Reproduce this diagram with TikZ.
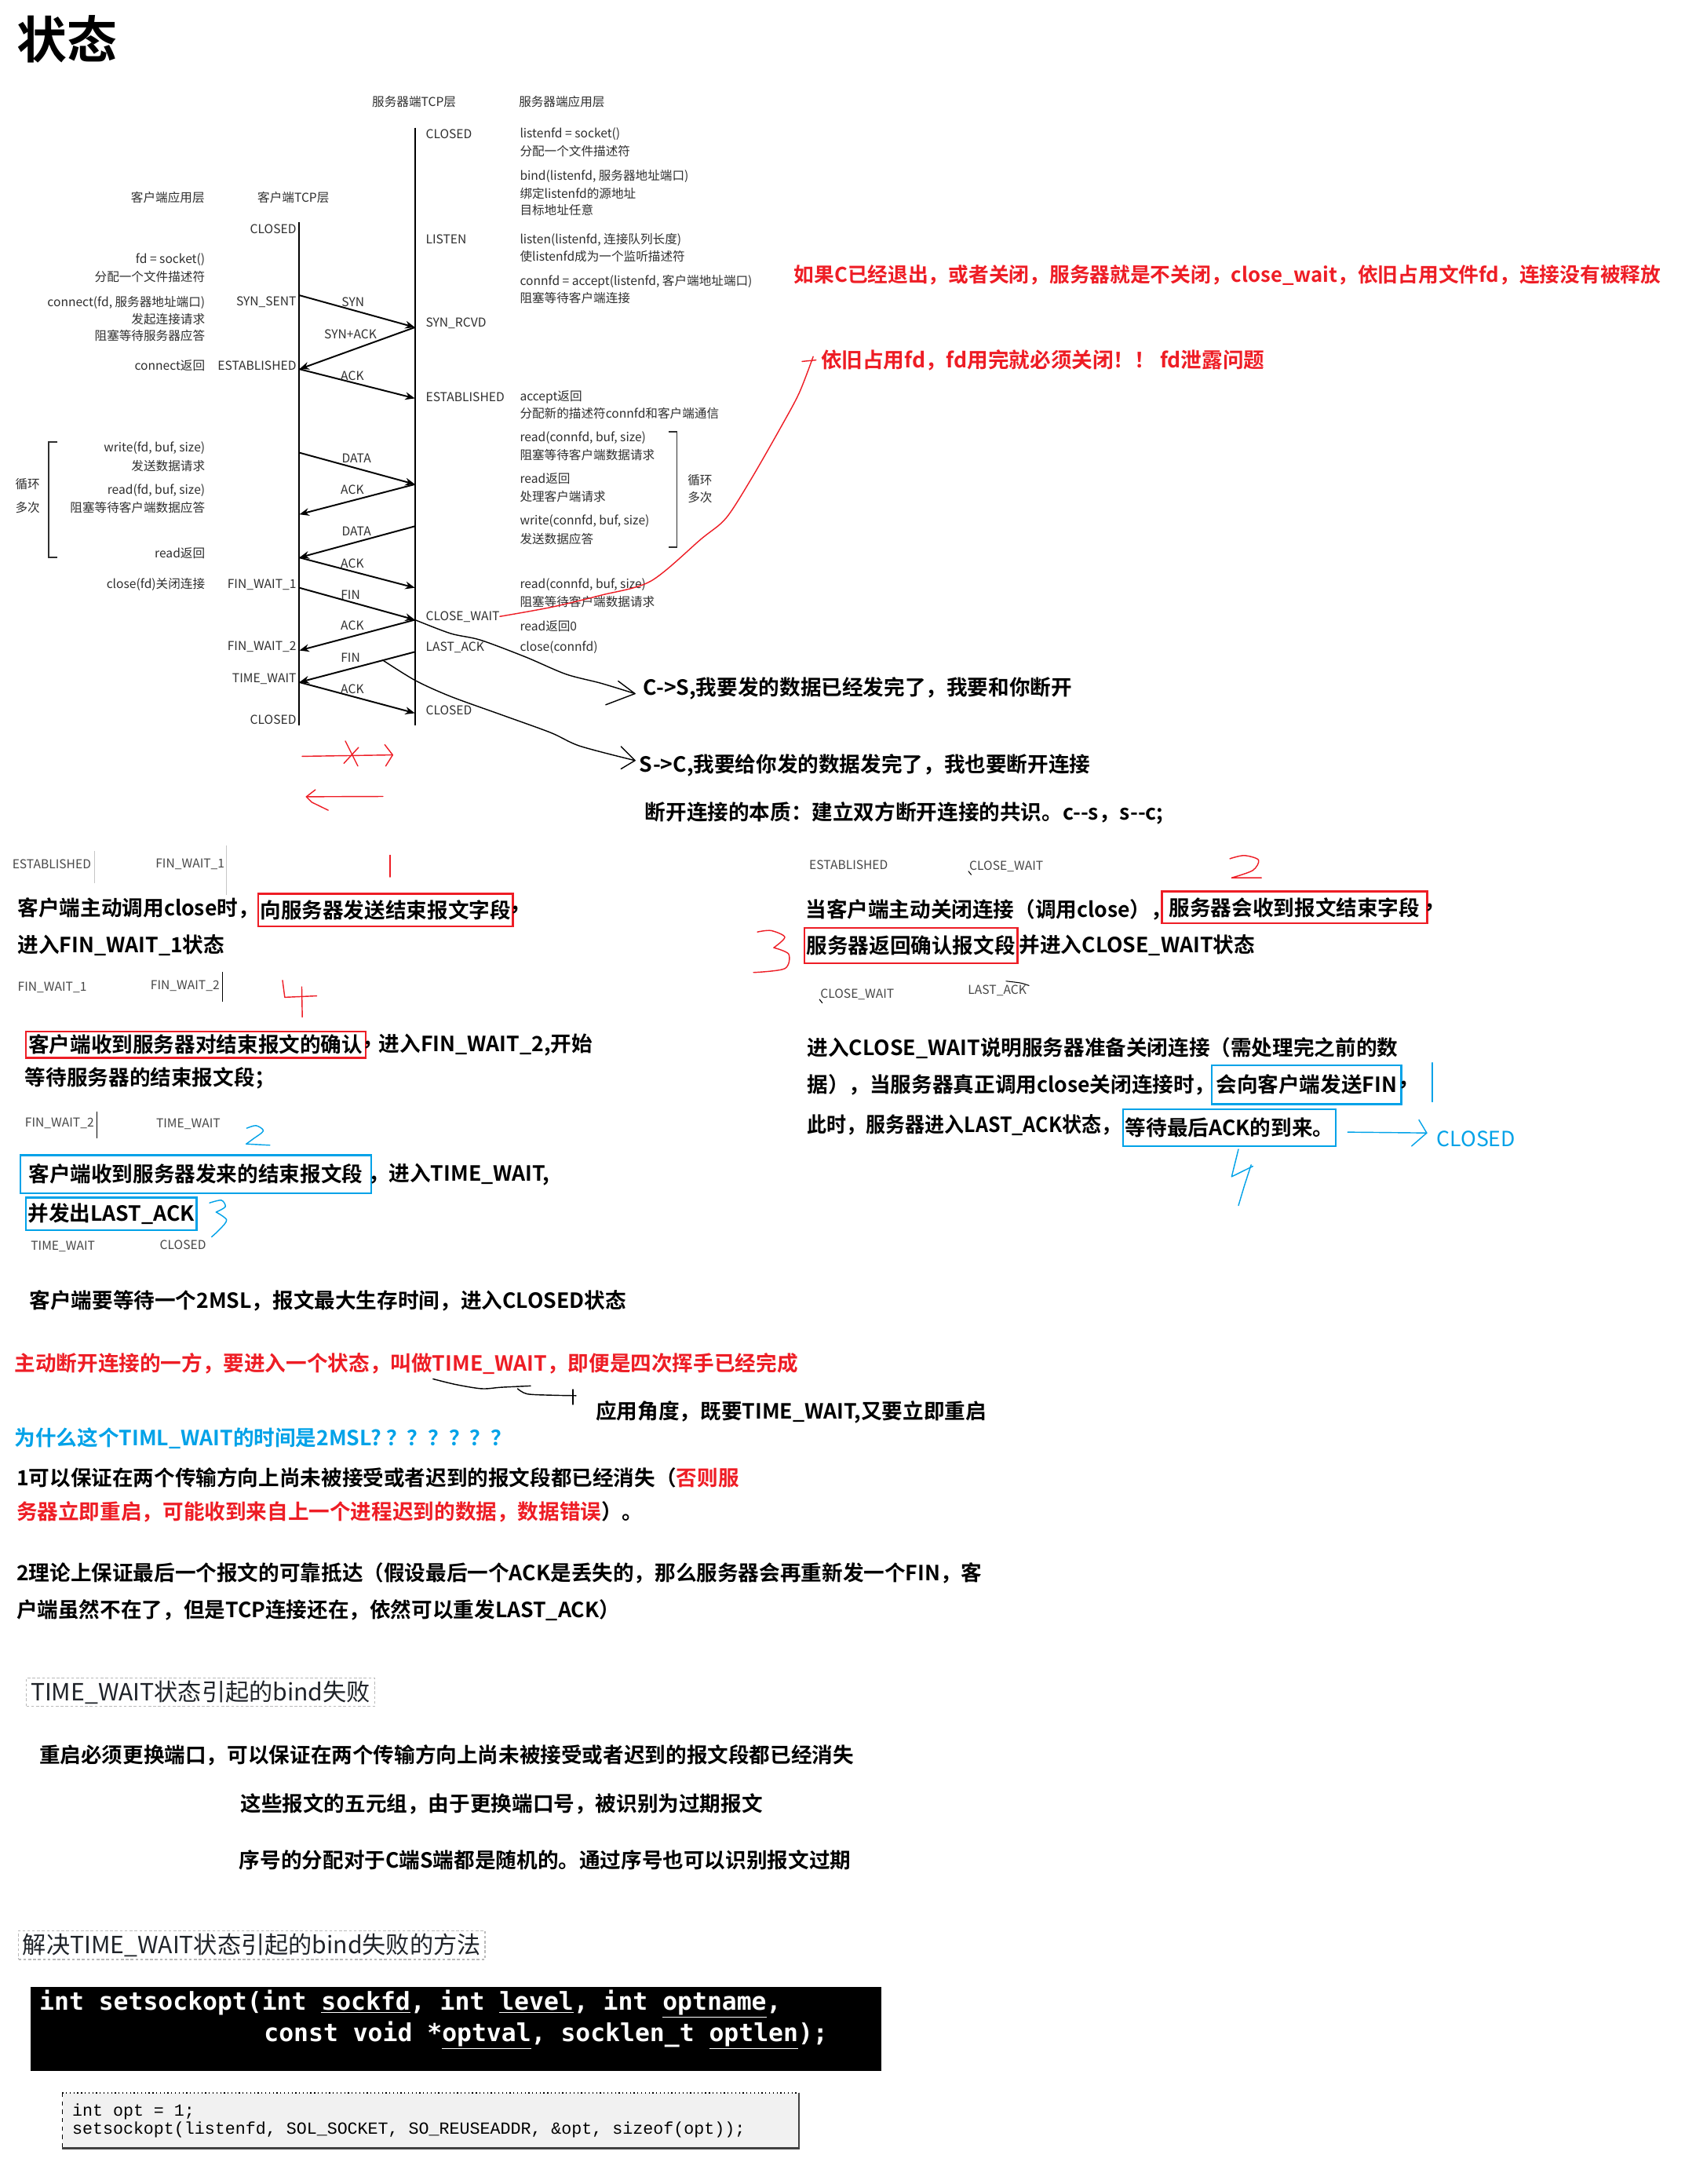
\documentclass[tikz,border=0pt]{standalone}
\usepackage{fontspec}
\setmainfont{Noto Sans CJK SC}[BoldFont={Noto Sans CJK SC Bold}]
\newfontfamily\notetight{Noto Sans CJK SC Bold}[FakeStretch=0.94]
\newfontfamily\codefont{DejaVu Sans Mono}
\newfontfamily\manfont{Liberation Mono}
\usetikzlibrary{arrows.meta,positioning}
\definecolor{NoteRed}{HTML}{EE1D25}
\definecolor{NoteBlue}{HTML}{00A2E8}
\definecolor{DiagInk}{HTML}{2F2F2F}
\definecolor{TagInk}{HTML}{474747}
\definecolor{HeadInk}{HTML}{1F2329}
\definecolor{CodeBack}{HTML}{F1F1F1}
\newcommand\diagsize{\fontsize{8.8}{10}\selectfont}
\newcommand\notesize{\fontsize{15}{18}\selectfont}
\newcommand\headsize{\fontsize{17}{20}\selectfont}
\tikzset{>=Stealth,every node/.style={inner sep=0pt},
 diag/.style={font=\diagsize,text=DiagInk},diagL/.style={diag,anchor=west},
 diagR/.style={diag,anchor=east},tag/.style={diag,text=TagInk,anchor=west},
 lifeline/.style={line width=1.1pt},
 msg/.style={->,>={Stealth[length=7pt,width=5.5pt]},line width=1.1pt},
 bracket/.style={draw=DiagInk,line width=0.9pt},
 note/.style={font=\notesize\bfseries,anchor=west},redNote/.style={note,text=NoteRed},
 blueNote/.style={note,text=NoteBlue},
 redBox/.style={note,draw=NoteRed,line width=1.3pt,inner xsep=1.5pt},
 blueBox/.style={note,draw=NoteBlue,line width=1.3pt,inner xsep=1.5pt},
 hand/.style={line width=0.8pt,line cap=round,line join=round},
 handRed/.style={hand,draw=NoteRed},handBlue/.style={hand,draw=NoteBlue},
 heading/.style={font=\headsize,text=HeadInk,anchor=west,inner xsep=3pt,inner ysep=2pt,
  draw=gray!55,dash pattern=on 2pt off 1.5pt,line width=0.6pt},
 codeL/.style={font=\codefont\bfseries\fontsize{17.7}{20}\selectfont,text=white,anchor=west},
 optL/.style={font=\manfont\fontsize{12.2}{13}\selectfont,anchor=west}}
\begin{document}
\begin{tikzpicture}[x=1pt,y=-1pt]
\fill[white] (0,0) rectangle (1210,1568);
\useasboundingbox (0,0) rectangle (1210,1568);
\node[font=\bfseries\fontsize{36}{40}\selectfont,anchor=west] (title) at (12,28) {状态};
% sequence diagram
\node[diag] (hSrvTcp) at (297.4,73.3) {服务器端TCP层};
\node[diag] (hSrvApp) at (403.5,73.3) {服务器端应用层};
\node[diag] (hCliApp) at (120.5,141.9) {客户端应用层};
\node[diag] (hCliTcp) at (210.7,141.9) {客户端TCP层};
\coordinate (cTop) at (215,159.4); \coordinate (cBot) at (215,520.6);
\coordinate (sTop) at (298,91.7); \coordinate (sBot) at (298,520.6);
\draw[lifeline] (cTop) -- (cBot);
\draw[lifeline] (sTop) -- (sBot);
\node[diagR] (cClosed) at (213,164.4) {CLOSED};
\node[diagR] (cSynSent) at (213,217.1) {SYN\_SENT};
\node[diagR] (cEstab) at (213,262.5) {ESTABLISHED};
\node[diagR] (cFinWait1) at (213,419.7) {FIN\_WAIT\_1};
\node[diagR] (cFinWait2) at (213,464.6) {FIN\_WAIT\_2};
\node[diagR] (cTimeWait) at (213,487.3) {TIME\_WAIT};
\node[diagR] (cClosedEnd) at (213,516.8) {CLOSED};
\node[diagR] (aSocket) at (147.4,186.6) {fd = socket()};
\node[diagR] (aSocketTxt) at (147.4,198.8) {分配一个文件描述符};
\node[diagR] (aConnect) at (147.4,217.1) {connect(fd, 服务器地址端口)};
\node[diagR] (aConnectTxt) at (147.4,228.9) {发起连接请求};
\node[diagR] (aConnectWait) at (147.4,241) {阻塞等待服务器应答};
\node[diagR] (aConnectRet) at (147.4,262.5) {connect返回};
\node[diagR] (aWrite) at (147.4,321.8) {write(fd, buf, size)};
\node[diagR] (aWriteTxt) at (147.4,334.5) {发送数据请求};
\node[diagR] (aRead) at (147.4,351.8) {read(fd, buf, size)};
\node[diagR] (aReadTxt) at (147.4,364.6) {阻塞等待客户端数据应答};
\node[diagR] (aReadRet) at (147.4,396.9) {read返回};
\node[diagR] (aClose) at (147.4,419.7) {close(fd)关闭连接};
\node[diagL] (sClosed) at (305.6,96.4) {CLOSED};
\node[diagL] (sListen) at (305.6,172) {LISTEN};
\node[diagL] (sSynRcvd) at (305.6,232.1) {SYN\_RCVD};
\node[diagL] (sEstab) at (305.6,285.1) {ESTABLISHED};
\node[diagL] (sCloseWait) at (305.6,442.6) {CLOSE\_WAIT};
\node[diagL] (sLastAck) at (305.6,464.6) {LAST\_ACK};
\node[diagL] (sClosedEnd) at (305.6,509.9) {CLOSED};
\node[diagL] (bSocket) at (373.2,96.4) {listenfd = socket()};
\node[diagL] (bSocketTxt) at (373.2,108.6) {分配一个文件描述符};
\node[diagL] (bBind) at (373.2,126.3) {bind(listenfd, 服务器地址端口)};
\node[diagL] (bBindTxt) at (373.2,138.7) {绑定listenfd的源地址};
\node[diagL] (bBindTxt2) at (373.2,150.7) {目标地址任意};
\node[diagL] (bListen) at (373.2,172) {listen(listenfd, 连接队列长度)};
\node[diagL] (bListenTxt) at (373.2,183.8) {使listenfd成为一个监听描述符};
\node[diagL] (bAccept) at (373.2,202) {connfd = accept(listenfd, 客户端地址端口)};
\node[diagL] (bAcceptTxt) at (373.2,213.9) {阻塞等待客户端连接};
\node[diagL] (bAcceptRet) at (373.2,285.1) {accept返回};
\node[diagL] (bAcceptRetTxt) at (373.2,297) {分配新的描述符connfd和客户端通信};
\node[diagL] (bRead) at (373.2,314.2) {read(connfd, buf, size)};
\node[diagL] (bReadTxt) at (373.2,326.6) {阻塞等待客户端数据请求};
\node[diagL] (bReadRet) at (373.2,343.9) {read返回};
\node[diagL] (bReadRetTxt) at (373.2,356.5) {处理客户端请求};
\node[diagL] (bWrite) at (373.2,374) {write(connfd, buf, size)};
\node[diagL] (bWriteTxt) at (373.2,387.2) {发送数据应答};
\node[diagL] (bRead2) at (373.2,419.7) {read(connfd, buf, size)};
\node[diagL] (bRead2Txt) at (373.2,431.9) {阻塞等待客户端数据请求};
\node[diagL] (bReadZero) at (373.2,449.7) {read返回0};
\node[diagL] (bClose) at (373.2,464.6) {close(connfd)};
\draw[bracket] (41.3,317.2) -- (34.9,317.2) -- (34.9,400.3) -- (41.3,400.3);
\node[diag] (cLoop1) at (19.8,347.7) {循环};
\node[diag] (cLoop2) at (19.8,364.6) {多次};
\draw[bracket] (480,310) -- (486.1,310) -- (486.1,392.8) -- (480,392.8);
\node[diag] (sLoop1) at (502.7,344.9) {循环};
\node[diag] (sLoop2) at (502.7,357) {多次};
\coordinate (cSyn) at (215,212); \coordinate (cEst) at (215,265);
\coordinate (cData1) at (215,325); \coordinate (cAck2) at (215,369.3);
\coordinate (cData2) at (215,400.3); \coordinate (cFin1) at (215,422);
\coordinate (cAck3) at (215,467); \coordinate (cFin2) at (215,489.8);
\coordinate (sSyn) at (298,235); \coordinate (sEst) at (298,286);
\coordinate (sData1) at (298,347.7); \coordinate (sData2) at (298,377.8);
\coordinate (sAck2) at (298,422); \coordinate (sFin1) at (298,445);
\coordinate (sFin2) at (298,468); \coordinate (sClose) at (298,512);
\draw[msg] (cSyn) -- (sSyn);
\draw[msg] (sSyn) -- (cEst);
\draw[msg] (cEst) -- (sEst);
\draw[msg] (cData1) -- (sData1);
\draw[msg] (sData1) -- (cAck2);
\draw[msg] (sData2) -- (cData2);
\draw[msg] (cData2) -- (sAck2);
\draw[msg] (cFin1) -- (sFin1);
\draw[msg] (sFin1) -- (cAck3);
\draw[msg] (sFin2) -- coordinate[pos=.277] (finMark) (cFin2);
\draw[msg] (cFin2) -- (sClose);
\node[diag] (lSyn) at (253.5,217) {SYN};
\node[diag] (lSynAck) at (251.7,239.7) {SYN+ACK};
\node[diag] (lAck1) at (253,269.6) {ACK};
\node[diag] (lData1) at (256,328.8) {DATA};
\node[diag] (lAck2) at (253,351.8) {ACK};
\node[diag] (lData2) at (256,381.5) {DATA};
\node[diag] (lAck3) at (253,404.5) {ACK};
\node[diag] (lFin1) at (251.7,427) {FIN};
\node[diag] (lAck4) at (253,449) {ACK};
\node[diag] (lFin2) at (251.7,472) {FIN};
\node[diag] (lAck5) at (253,494.9) {ACK};
% notes beside the diagram
\node[redNote,font=\fontsize{14.5}{17}\selectfont\bfseries] (leakNote) at (570,197.3) {如果C已经退出，或者关闭，服务器就是不关闭，close\_wait，依旧占用文件fd，连接没有被释放};
\node[redNote] (fdNote) at (589.4,258.4) {依旧占用fd，fd用完就必须关闭！！ fd泄露问题};
\coordinate (leakTip) at (584,256);
\draw[handRed] plot[smooth] coordinates {(sCloseWait.east) (395.5,436) (431.4,427.4) (467.4,417.2) (503.5,387) (521.4,372) (539.4,344) (561,306.3) (574,282) (leakTip)};
\draw[handRed] (576,259.5) -- (586,258.5);
\node[note] (csNote) at (461.8,494.3) {C->S,我要发的数据已经发完了，我要和你断开};
\node[note] (scNote) at (459.1,549.2) {S->C,我要给你发的数据发完了，我也要断开连接};
\node[note] (coreNote) at (463,584.1) {断开连接的本质：建立双方断开连接的共识。c-{}-s，s-{}-c;};
\coordinate (csTip) at (456,498); \coordinate (scTip) at (456,546);
\draw[hand] plot[smooth] coordinates {(sFin1) (323.6,454.8) (345,459.5) (377.5,471.7) (406.4,484) (431.5,490.5) (csTip)};
\draw[hand] (444,489) -- (csTip) -- (435,506);
\draw[hand] plot[smooth] coordinates {(finMark) (298.4,488.6) (323.6,500) (359.6,513) (395.5,526) (416.4,535.6) (scTip)};
\draw[hand] (446,536) -- (scTip) -- (446,552);
\draw[handRed] (217,543) -- (282,542);
\draw[handRed] (276.3,534.6) -- (282,542) -- (277,550);
\draw[handRed] (248,532) -- (257,550);
\draw[handRed] (247,548) -- (257.5,536.6);
\draw[handRed] (275,571.8) -- (220,572);
\draw[handRed] (226.5,567) -- (220,572) -- (224,576) -- (235.7,581.7);
% client side of the close
\node[tag] (tEst1) at (8.7,620.6) {ESTABLISHED};
\draw[gray!45,line width=0.5pt] (68,610.7) -- (68,634);
\node[tag] (tFw1a) at (111.6,620.6) {FIN\_WAIT\_1};
\draw[gray!45,line width=0.5pt] (162.6,607) -- (162.6,642.8);
\draw[handRed] (280,614) -- (280,629.6);
\node[note] (n1) at (12.6,652) {客户端主动调用close时，};
\node[redBox,minimum width=182pt,minimum height=23.5pt] (bSendFin) at (184.7,653.5) {向服务器发送结束报文字段};
\node[note] (n1c) at ([xshift=-3pt]bSendFin.east) {，};
\node[note] (n2) at (12.6,678.5) {进入FIN\_WAIT\_1状态};
\node[tag] (tFw1b) at (12.6,708.8) {FIN\_WAIT\_1};
\node[tag] (tFw2a) at (108,708) {FIN\_WAIT\_2};
\draw[line width=0.8pt] (159.8,698) -- (159.8,719);
\draw[handRed] (202.9,703.8) -- (204.5,716) -- (227.4,715);
\draw[handRed] (216.7,708.5) -- (217.1,730.2);
\node[redBox,minimum width=244pt,minimum height=19pt] (bAckFin) at (17.8,750) {客户端收到服务器对结束报文的确认};
\node[note] (n3c) at ([xshift=-3pt]bAckFin.east) {，};
\node[note] (n3) at (272,750) {进入FIN\_WAIT\_2,开始};
\node[note] (n4) at (17.8,774.2) {等待服务器的结束报文段；};
\node[tag] (tFw2b) at (17.8,806.3) {FIN\_WAIT\_2};
\draw[line width=0.8pt] (69.6,797.8) -- (69.6,817.5);
\node[tag] (tTw1) at (112,807) {TIME\_WAIT};
\draw[handBlue] plot[smooth] coordinates {(177.2,810) (183.9,808.1) (189.1,811.9) (181.9,817.6) (176.8,821.3)} -- (193.8,822.2);
\node[blueBox,minimum width=252pt,minimum height=27.4pt] (bGotFin) at (13.9,843) {客户端收到服务器发来的结束报文段};
\node[note] (n5) at ([xshift=-3pt]bGotFin.east) {，进入TIME\_WAIT,};
\node[blueBox,minimum width=121.5pt,minimum height=23.5pt] (bLastAck) at (17.8,871.5) {并发出LAST\_ACK};
\draw[handBlue] plot[smooth] coordinates {(150.5,863.6) (159,861.7) (161.8,866.4) (155.2,870.2)};
\draw[handBlue] plot[smooth] coordinates {(155.2,870.2) (162.7,875.8) (158,882.4) (152,888)};
\node[tag] (tTw2) at (22,894.8) {TIME\_WAIT};
\node[tag] (tCl1) at (114.6,893.7) {CLOSED};
\node[note] (n6) at (21,934) {客户端要等待一个2MSL，报文最大生存时间，进入CLOSED状态};
% server side of the close
\node[tag] (tEst2) at (581,621) {ESTABLISHED};
\node[tag] (tCw1) at (696,622) {CLOSE\_WAIT};
\draw[hand,line width=0.6pt] (695.5,625.5) -- (697.5,628);
\draw[handRed] plot[smooth] coordinates {(883.2,616.5) (893.5,614.2) (903.8,617.4) (899.7,624.9) (884.5,630.2)} -- (905.9,630.2);
\node[note] (r1) at (578.3,653) {当客户端主动关闭连接（调用close），};
\node[redBox,minimum width=190.4pt,minimum height=23pt] (bSrvGot) at (833.8,651.5) {服务器会收到报文结束字段};
\node[note] (r1c) at ([xshift=-3pt]bSrvGot.east) {，};
\draw[handRed] plot[smooth] coordinates {(543.9,669.1) (553.7,668.1) (563.6,672.8) (555.7,680.4)};
\draw[handRed] plot[smooth] coordinates {(555.7,680.4) (566.4,685) (563.6,695.4) (541.1,698.2)};
\node[redBox,minimum width=151pt,minimum height=25.6pt] (bSrvAck) at (577,678.8) {服务器返回确认报文段};
\node[note] (r2) at ([xshift=0.5pt]bSrvAck.east) {并进入CLOSE\_WAIT状态};
\node[tag] (tCw2) at (589,714) {CLOSE\_WAIT};
\draw[hand,line width=0.6pt] (588.5,717.5) -- (590.5,720);
\node[tag] (tLa) at (695,711.4) {LAST\_ACK};
\draw[hand,line width=0.6pt] plot[smooth] coordinates {(722.5,704.4) (732.8,705.7) (739,707.6)};
\node[note] (r3) at (579.5,752.7) {进入CLOSE\_WAIT说明服务器准备关闭连接（需处理完之前的数};
\node[note] (r4) at (579.5,779) {据），当服务器真正调用close关闭连接时，};
\node[blueBox,minimum width=136pt,minimum height=27.7pt] (bSendFin2) at (869.6,778.8) {会向客户端发送FIN};
\node[note] (r4c) at ([xshift=-3pt]bSendFin2.east) {，};
\draw[handBlue] (1028.7,763) -- (1028.7,791);
\node[note,font=\notesize\notetight] (r5) at (579.5,808) {此时，服务器进入LAST\_ACK状态，};
\node[blueBox,minimum width=147.3pt,minimum height=26.3pt] (bWaitAck) at (806,809.6) {等待最后ACK的到来。};
\node[font=\notesize,text=NoteBlue,anchor=west] (tClosedBlue) at (1031.6,817.6) {CLOSED};
\coordinate (ackTail) at (967.8,812.8); \coordinate (ackHead) at (1024.6,813.4);
\draw[handBlue] (ackTail) -- (ackHead);
\draw[handBlue] (1019,804) -- (ackHead) -- (1013.8,822.8);
\draw[handBlue] (889.4,825.1) -- (884.5,844.8) -- (899.7,837.3);
\draw[handBlue] (898.5,836.3) -- (893.6,851.4) -- (889.4,865.5);
% TIME_WAIT
\node[redNote] (twNote) at (10.3,979) {主动断开连接的一方，要进入一个状态，叫做TIME\_WAIT，即便是四次挥手已经完成};
\node[note] (appNote) at (427.8,1014) {应用角度，既要TIME\_WAIT,又要立即重启};
\draw[hand] plot[smooth] coordinates {(311,990) (327.3,994) (346,997) (360,996) (381,995)};
\draw[hand] plot[smooth] coordinates {(371.7,997) (378.7,1000.8) (397.4,1001.7) (413.7,1002)};
\draw[hand] (411.4,997.6) -- (411.4,1008.3);
\node[blueNote] (whyNote) at (10.3,1032.8) {为什么这个TIML\_WAIT的时间是2MSL? ？？？？？？};
\node[note] (why1) at (11.7,1061) {1可以保证在两个传输方向上尚未被接受或者迟到的报文段都已经消失（\textcolor{NoteRed}{否则服}};
\node[note] (why1b) at (11.7,1085.4) {\textcolor{NoteRed}{务器立即重启，可能收到来自上一个进程迟到的数据，数据错误}）。};
\node[note] (why2) at (11.7,1129.5) {2理论上保证最后一个报文的可靠抵达（假设最后一个ACK是丢失的，那么服务器会再重新发一个FIN，客};
\node[note] (why2b) at (11.7,1155.8) {户端虽然不在了，但是TCP连接还在，依然可以重发LAST\_ACK）};
\node[heading] (hBind) at (18.7,1214.9) {TIME\_WAIT状态引起的bind失败};
\node[note] (p1) at (28,1260) {重启必须更换端口，可以保证在两个传输方向上尚未被接受或者迟到的报文段都已经消失};
\node[note] (p2) at (172.5,1295) {这些报文的五元组，由于更换端口号，被识别为过期报文};
\node[note] (p3) at (171.7,1335.3) {序号的分配对于C端S端都是随机的。通过序号也可以识别报文过期};
\node[heading] (hFix) at (13,1396.4) {解决TIME\_WAIT状态引起的bind失败的方法};
% code
\node[fill=black,minimum width=610.8pt,minimum height=60.1pt,anchor=north west] (codeBox) at (21.9,1426.5) {};
\node[codeL] (code1) at (28.1,1438.7) {int setsockopt(int \underline{sockfd}, int \underline{level}, int \underline{optname},};
\node[codeL] (code2) at (189.4,1461.3) {const void *\underline{optval}, socklen\_t \underline{optlen});};
\node[fill=CodeBack,minimum width=528.8pt,minimum height=39.4pt,anchor=north west] (optBox) at (44.7,1502.6) {};
\draw[dotted,line width=0.7pt] (optBox.north west) -- (optBox.north east);
\draw[dashed,line width=0.5pt] (optBox.north west) -- (optBox.south west);
\draw[line width=1.3pt,black!75] (optBox.north east) -- (optBox.south east) -- (optBox.south west);
\node[optL] (opt1) at (51.7,1516.3) {int opt = 1;};
\node[optL] (opt2) at (51.7,1528.9) {setsockopt(listenfd, SOL\_SOCKET, SO\_REUSEADDR, \&opt, sizeof(opt));};
\end{tikzpicture}
\end{document}
